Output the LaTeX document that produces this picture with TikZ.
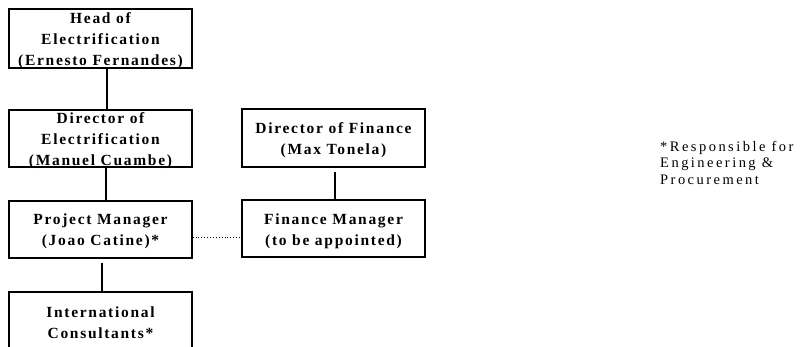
\documentclass[tikz,border=0pt]{standalone}
\usepackage{fontspec}
\setmainfont{Liberation Serif}
\newfontfamily\boxfont[LetterSpace=11]{Liberation Serif}
\newfontfamily\notefont[LetterSpace=17]{Liberation Serif}
\begin{document}
\begin{tikzpicture}[x=1pt,y=-1pt,
  orgbox/.style={draw,line width=1.3pt,rectangle,minimum width=183pt,inner sep=0pt},
  boxtext/.style={inner sep=0pt,align=center,
    font=\boxfont\fontsize{15.5}{21}\selectfont\bfseries},
  link/.style={line width=1.1pt}]
\useasboundingbox (0,0) rectangle (802,347);
\clip (0,0) rectangle (802,347);
% boxes
\node[orgbox,minimum height=59pt] (head) at (100.5,38.5) {};
\node[orgbox,minimum height=57pt] (dirE) at (100.5,138.5) {};
\node[orgbox,minimum height=57pt] (pm) at (100.5,229.5) {};
\node[orgbox,minimum height=60pt] (ic) at (100.5,322) {};
\node[orgbox,minimum height=58pt] (df) at (333.5,138) {};
\node[orgbox,minimum height=57pt] (fm) at (333.5,228.5) {};
% texts
\node[boxtext] (headT) at (100.5,41) {Head of\\Electrification\\(Ernesto Fernandes)};
\node[boxtext] (dirET) at (100.5,140.5) {Director of\\Electrification\\(Manuel Cuambe)};
\node[boxtext] (pmT) at (100.5,231) {Project Manager\\(Joao Catine)*};
\node[boxtext] (icT) at (100.5,322.5) {International\\Consultants*};
\node[boxtext] (dfT) at (333.5,140.5) {Director of Finance\\(Max Tonela)};
\node[boxtext] (fmT) at (333.5,231) {Finance Manager\\(to be appointed)};
\node[anchor=north west,align=left,inner sep=0pt,font=\notefont\fontsize{14.5}{16.5}\selectfont] (note) at (660,141) {*Responsible for\\Engineering \&\\Procurement};
% connectors
\coordinate (c1) at (107,0);
\coordinate (c2) at (106,0);
\coordinate (c3) at (102,0);
\coordinate (c4) at (335,0);
\coordinate (cd) at (0,237);
\draw[link] (head.south -| c1) -- (dirE.north -| c1);
\draw[link] (dirE.south -| c2) -- (pm.north -| c2);
\draw[link] ([yshift=-4pt]pm.south -| c3) -- (ic.north -| c3);
\draw[link] ([yshift=-4pt]df.south -| c4) -- (fm.north -| c4);
\draw[dotted,line width=0.9pt] (pm.east |- cd) -- (fm.west |- cd);
\end{tikzpicture}
\end{document}
